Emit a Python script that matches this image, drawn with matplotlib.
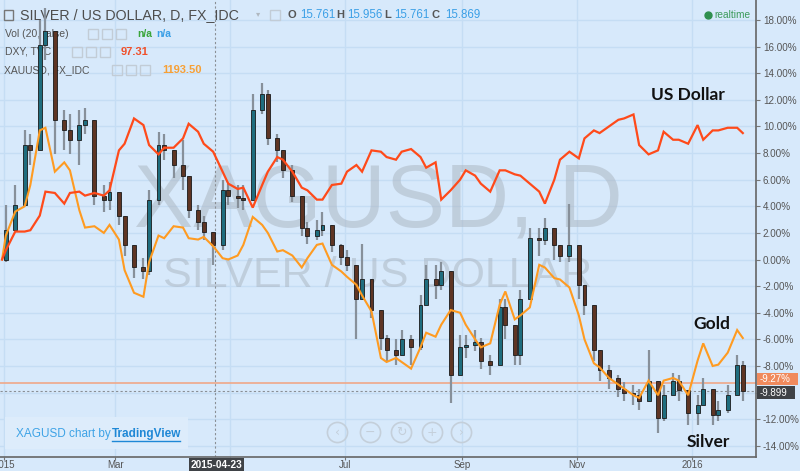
"""XAGUSD daily, % change since first bar, with gold and the dollar index overlaid (TradingView look)."""
import matplotlib

matplotlib.use("Agg")
import matplotlib.dates as mdates  # noqa: E402
import matplotlib.pyplot as plt  # noqa: E402
import pandas as pd  # noqa: E402
from matplotlib.lines import Line2D  # noqa: E402
from matplotlib.patches import Rectangle  # noqa: E402

# one bar every 3 business days, 2015-01-02 .. 2016-01-28
BAR_DATES = pd.bdate_range("2015-01-02", periods=94, freq="3B")
LINE_START = "2014-12-31"

SILVER_OPEN0 = 0.0
SILVER_CLOSE = [2.2, 4.1, 8.6, 8.2, 16.1, 17.2, 10.5, 9.7, 9.0, 10.1,
                10.5, 4.8, 4.5, 5.1, 3.3, 1.1, -0.6, -0.9, 4.5, 8.6,
                8.2, 7.1, 6.3, 3.7, 2.8, 2.1, 1.1, 5.2, 4.8, 4.6,
                4.5, 11.2, 12.4, 9.1, 8.2, 6.7, 4.8, 2.4, 1.8, 2.2,
                2.6, 1.1, 0.2, -0.4, -3.0, -1.5, -3.8, -5.9, -6.8, -7.2,
                -6.0, -6.6, -3.4, -1.5, -1.9, -0.9, -8.7, -6.6, -6.4, -6.2,
                -7.6, -7.9, -3.6, -4.9, -7.2, -3.0, 1.6, 1.5, 2.4, 1.1,
                0.3, 1.1, -1.9, -3.4, -6.8, -8.3, -8.9, -9.7, -10.0, -10.2,
                -10.6, -9.1, -11.9, -10.2, -9.1, -9.8, -11.5, -10.9, -9.7, -11.7,
                -11.3, -10.2, -7.9, -9.9]
SILVER_HIGH = [4.1, 5.6, 9.7, 9.4, 18.0, 18.9, 15.4, 11.2, 10.9, 11.2,
               11.4, 6.0, 5.6, 5.8, 4.8, 2.4, 0.7, 0.1, 5.2, 9.6,
               9.4, 8.2, 9.0, 6.0, 4.1, 3.3, 2.1, 6.0, 5.7, 5.6,
               5.6, 12.4, 13.3, 12.7, 9.4, 7.9, 7.1, 4.8, 2.8, 3.0,
               3.6, 2.6, 1.2, 0.7, -0.4, 1.2, -1.5, -4.2, -5.7, -6.0,
               -5.3, -5.7, -2.7, -0.4, -0.4, -0.2, -2.3, -5.7, -5.7, -5.3,
               -5.9, -7.2, -3.0, -3.0, -6.0, -2.3, 2.4, 2.4, 3.1, 2.4,
               1.1, 4.2, -0.6, -1.9, -4.5, -7.2, -7.9, -8.7, -9.2, -9.4,
               -9.7, -6.8, -10.2, -9.4, -8.5, -8.7, -10.2, -10.2, -8.9, -10.4,
               -10.6, -9.4, -7.2, -7.6]
SILVER_LOW = [-0.2, 2.2, 4.1, 7.1, 9.7, 15.0, 7.9, 8.2, 7.9, 7.1,
              9.4, 4.1, 3.6, 3.7, 2.6, 0.3, -1.4, -1.5, -1.2, 4.1,
              7.5, 6.1, 5.2, 3.1, 2.2, 1.5, -0.4, 0.7, 4.1, 3.9,
              3.7, 4.5, 10.9, 8.6, 7.3, 6.1, 4.3, 1.8, 1.2, 1.5,
              1.8, 0.6, -0.4, -0.9, -6.0, -3.0, -4.4, -6.8, -7.6, -7.9,
              -6.9, -7.9, -6.8, -3.0, -3.0, -2.3, -10.8, -7.7, -7.4, -6.9,
              -8.2, -8.7, -6.0, -6.0, -7.9, -7.9, -0.8, 0.3, 1.1, 0.0,
              -0.2, -0.2, -3.0, -4.2, -7.6, -9.1, -9.7, -10.3, -10.6, -10.9,
              -11.3, -10.2, -13.0, -12.1, -10.2, -10.6, -12.4, -12.4, -10.9, -12.4,
              -12.1, -11.5, -10.2, -10.6]

# lines: first value at LINE_START, then one per bar date
GOLD = [0.0,
        1.8, 3.6, 4.0, 5.6, 9.7, 9.9, 6.6, 7.3, 6.7, 3.7,
        2.4, 2.5, 2.0, 2.6, 1.5, -0.8, -2.5, -2.8, -0.2, 1.8,
        1.6, 2.5, 2.4, 1.6, 1.5, 1.7, 1.0, 0.1, 0.0, 0.3,
        1.1, 3.2, 2.6, 2.0, 0.6, 0.7, 0.3, -0.6, 0.1, 1.1,
        1.2, -0.4, -0.9, -1.3, -1.9, -2.7, -3.9, -7.4, -7.7, -7.4,
        -7.7, -8.2, -6.6, -5.5, -5.8, -4.9, -3.8, -4.0, -4.9, -6.0,
        -6.6, -6.3, -3.4, -2.4, -4.5, -4.2, -3.6, -0.4, -0.6, -1.4,
        -1.5, -2.1, -4.2, -6.0, -7.8, -8.1, -8.9, -9.4, -9.7, -10.2,
        -10.4, -9.1, -10.2, -9.1, -8.9, -9.1, -10.2, -7.6, -6.3, -8.0,
        -7.9, -7.0, -5.3, -5.9]
DXY = [0.0,
       0.7, 2.1, 2.1, 2.2, 3.3, 5.1, 5.0, 4.2, 5.0, 5.1,
       4.8, 5.0, 4.8, 5.2, 8.2, 8.7, 10.6, 10.1, 8.6, 7.9,
       8.4, 8.4, 9.1, 10.2, 9.6, 8.7, 8.1, 6.6, 5.7, 5.3,
       5.4, 3.9, 5.6, 6.6, 7.7, 7.5, 6.6, 5.4, 5.2, 4.5,
       4.5, 5.6, 5.7, 6.6, 7.1, 6.6, 8.2, 8.1, 7.7, 7.5,
       8.1, 8.3, 7.7, 6.9, 7.3, 4.5, 5.2, 6.0, 6.7, 6.3,
       5.7, 5.1, 6.7, 6.7, 6.4, 6.3, 5.7, 5.1, 4.2, 6.0,
       7.5, 8.1, 7.6, 9.1, 9.7, 9.5, 10.0, 10.5, 10.6, 10.9,
       8.6, 7.9, 8.2, 9.6, 9.0, 9.0, 8.7, 10.1, 9.0, 9.7,
       9.7, 9.9, 9.9, 9.5]

Y_TICKS = list(range(-14, 20, 2))
X_TICKS = ["2015-01-01", "2015-03-01", "2015-05-01", "2015-07-01",
           "2015-09-01", "2015-11-01", "2016-01-01"]
X_LABELS = ["2015", "Mar", "", "Jul", "Sep", "Nov", "2016"]  # May sits under the crosshair tag
CROSS_DATE = "2015-04-23"
PRICE_LINE = -9.27
LAST_CLOSE = -9.899

BG = "#d7e9fb"
GRID = "#c5ddf4"
UP, DOWN, WICK = "#1f6d7e", "#5e3524", "#87909a"
GOLD_C, DXY_C = "#ff9b21", "#ff4a1a"
AX_C = "#555555"
W, H = 800, 471


def fx(px):
    return px / W


def fy(py):
    return 1 - py / H


fig = plt.figure(figsize=(8, 4.71), dpi=100)
fig.patch.set_facecolor(BG)
ax = fig.add_axes([0, 1 - 457 / H, 756 / W, 457 / H])
ax.set_facecolor(BG)
plt.rcParams["font.family"] = ["Liberation Sans", "DejaVu Sans"]

base = mdates.date2num(pd.Timestamp("2015-01-01"))
ax.set_xlim(base - 2.1, base + 399)
ax.set_ylim(-14.84, 19.5)

# axes, ticks, grid; the -10% label is hidden behind the last-price tag
ax.yaxis.tick_right()
ax.set_yticks(Y_TICKS)
ax.set_yticklabels(["" if v == -10 else f"{v:.2f}%" for v in Y_TICKS], family="Liberation Sans")
ax.set_xticks(mdates.date2num(pd.to_datetime(X_TICKS)))
ax.set_xticklabels(X_LABELS, family="Liberation Sans")
ax.tick_params(axis="y", length=3, color="#777", labelsize=7.1, labelcolor=AX_C, pad=2)
ax.tick_params(axis="x", length=2, color="#777", labelsize=7, labelcolor=AX_C, pad=0.5)
ax.grid(color=GRID, lw=1, zorder=0)
ax.set_axisbelow(True)
for s in ("top", "left"):
    ax.spines[s].set_visible(False)
for s in ("right", "bottom"):
    ax.spines[s].set_color("#666")
    ax.spines[s].set_linewidth(1.2)

# watermark
ax.text(0.5, 1 - 204 / 457, "XAGUSD, D", transform=ax.transAxes, ha="center", va="center",
        fontsize=64, color="#adb8c4", alpha=0.55, family="Liberation Sans", zorder=1)
ax.text(0.5, 1 - 276 / 457, "SILVER / US DOLLAR", transform=ax.transAxes, ha="center",
        va="center", fontsize=31, color="#adb8c4", alpha=0.55, family="Liberation Sans", zorder=1)

# legend block (under the bars, like the original)
tf = fig.transFigure


def icons(x0, y):
    for k in range(3):
        ax.add_patch(Rectangle((fx(x0 + 14 * k), fy(y + 5)), 10 / W, 10 / H, transform=tf,
                               facecolor="none", edgecolor="#c2ccd6", lw=1, zorder=2))


ax.add_patch(Rectangle((fx(4), fy(20)), 9 / W, 10 / H, transform=tf, facecolor="none",
                       edgecolor="#777", lw=1, zorder=2))
ax.text(fx(20), fy(15), "SILVER / US DOLLAR, D, FX_IDC", transform=tf, va="center",
        fontsize=10.3, color="#4d4d4d", zorder=2)
ax.text(fx(256), fy(15), "▾", transform=tf, va="center", fontsize=6, color="#b0b8c0", zorder=2)
ax.add_patch(Rectangle((fx(270), fy(20)), 10 / W, 10 / H, transform=tf, facecolor="none",
                       edgecolor="#c2ccd6", lw=1, zorder=2))
for lab, lx, val, vx in [("O", 287, "15.761", 300), ("H", 336, "15.956", 347),
                         ("L", 384, "15.761", 394), ("C", 432, "15.869", 445)]:
    ax.text(fx(lx), fy(15), lab, transform=tf, va="center", fontsize=8, weight="bold",
            color="#555", zorder=2)
    ax.text(fx(vx), fy(15), val, transform=tf, va="center", fontsize=8.3, color="#3a9fe6",
            zorder=2)

ax.text(fx(5), fy(34), "Vol (20, false)", transform=tf, va="center", fontsize=7.5,
        color="#555", zorder=2)
icons(88, 34)
ax.text(fx(137), fy(34), "n/a", transform=tf, va="center", fontsize=7.5, color="#3aa53a",
        weight="bold", zorder=2)
ax.text(fx(156), fy(34), "n/a", transform=tf, va="center", fontsize=7.5, color="#3a9fe6",
        weight="bold", zorder=2)
ax.text(fx(5), fy(52), "DXY, TVC", transform=tf, va="center", fontsize=7.5, color="#555",
        zorder=2)
icons(72, 52)
ax.text(fx(121), fy(52), "97.31", transform=tf, va="center", fontsize=8, color="#f0502a",
        weight="bold", zorder=2)
ax.text(fx(4), fy(70), "XAUUSD, FX_IDC", transform=tf, va="center", fontsize=7.5,
        color="#555", zorder=2)
icons(112, 70)
ax.text(fx(162), fy(70), "1193.50", transform=tf, va="center", fontsize=8, color="#f7a035",
        weight="bold", zorder=2)

# price line and crosshair
ax.axhline(PRICE_LINE, color="#f0a888", lw=1.2, zorder=2)
ax.axhline(LAST_CLOSE, color="#8a8f95", lw=0.8, ls=(0, (2, 2)), zorder=2)
ax.axvline(mdates.date2num(pd.Timestamp(CROSS_DATE)), color="#8a8f95", lw=0.8,
           ls=(0, (2, 2)), zorder=2)

# silver candles
xs = mdates.date2num(BAR_DATES)
bw = 2.1
prev = SILVER_OPEN0
for x, c, h, l in zip(xs, SILVER_CLOSE, SILVER_HIGH, SILVER_LOW):
    o = prev
    ax.vlines(x, min(l, o, c), max(h, o, c), color=WICK, lw=1.6, zorder=3)
    lo, hi = min(o, c), max(o, c)
    ax.add_patch(Rectangle((x - bw / 2, lo), bw, max(hi - lo, 0.1),
                           facecolor=UP if c >= o else DOWN, edgecolor="#1a1a1a",
                           lw=0.6, zorder=4))
    prev = c

# gold and dollar
lx = mdates.date2num(pd.to_datetime([LINE_START]).append(BAR_DATES))
ax.plot(lx, GOLD, color=GOLD_C, lw=1.5, zorder=5, solid_joinstyle="miter")
ax.plot(lx, DXY, color=DXY_C, lw=1.6, zorder=5, solid_joinstyle="miter")

# series labels
for txt, px, py in [("US Dollar", 688, 95), ("Gold", 712, 324), ("Silver", 708, 442)]:
    ax.text(fx(px), fy(py), txt, transform=tf, ha="center", va="center", fontsize=12.5,
            weight="bold", color="#111", family="Lato", zorder=6)

# right-axis price tags
fig.patches.append(Rectangle((fx(757), fy(385)), 41 / W, 12 / H, transform=tf,
                             facecolor="#f08a5d", edgecolor="none"))
fig.text(fx(760), fy(379), "-9.27%", va="center", fontsize=7, color="white")
fig.patches.append(Rectangle((fx(757), fy(399)), 38 / W, 13 / H, transform=tf,
                             facecolor="#3f4246", edgecolor="none"))
fig.text(fx(760), fy(392.5), "-9.899", va="center", fontsize=7, color="white")

# crosshair date tag
fig.patches.append(Rectangle((fx(189), fy(471)), 55 / W, 13 / H, transform=tf,
                             facecolor="#3f4246", edgecolor="none"))
fig.text(fx(216.5), fy(465), CROSS_DATE, ha="center", va="center", fontsize=7.3,
         color="white", weight="bold")

# realtime marker
fig.lines.append(Line2D([fx(708)], [fy(15)], transform=tf, marker="o", ms=5, color="#2f8f4e"))
fig.text(fx(714), fy(15), "realtime", va="center", fontsize=7.3, color="#3c9a5a")

# "chart by" box
fig.patches.append(Rectangle((fx(5), fy(449)), 183 / W, 32 / H, transform=tf,
                             facecolor="#ddecfb", edgecolor="none"))
fig.text(fx(16), fy(434), "XAGUSD chart by", va="center", fontsize=8.5, color="#3ea3e6")
fig.text(fx(112), fy(434), "TradingView", va="center", fontsize=8.5, color="#1f88d6",
         weight="bold")
fig.lines.append(Line2D([fx(112), fx(180)], [fy(441), fy(441)], transform=tf,
                        color="#1f88d6", lw=1))

# navigation buttons
for cx, g in zip([337, 370, 401, 432, 461], ["‹", "−", "↻", "+", "›"]):
    fig.lines.append(Line2D([fx(cx)], [fy(432)], transform=tf, marker="o", ms=14.5,
                            markerfacecolor="none", markeredgecolor="#c4cfda", mew=1.2))
    fig.text(fx(cx), fy(432), g, ha="center", va="center", fontsize=9, color="#c4cfda",
             family="DejaVu Sans")

fig.savefig("out.png", dpi=100, facecolor=BG)
